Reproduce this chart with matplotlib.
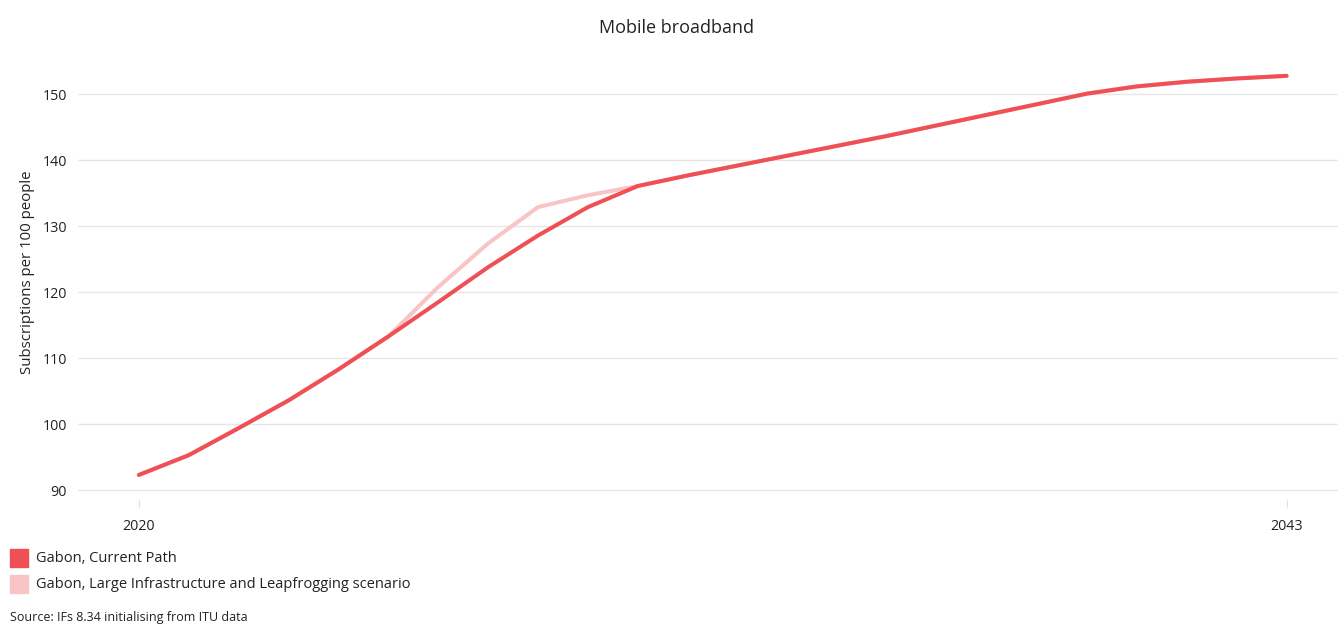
import matplotlib.pyplot as plt
import matplotlib.patches as mpatches

plt.rcParams['font.family'] = ['Open Sans', 'DejaVu Sans']

years = list(range(2020, 2044))
current_path = [92.3, 95.3, 99.4, 103.6, 108.3, 113.3, 118.5, 123.8, 128.6, 132.9,
                136.1, 137.7, 139.2, 140.7, 142.2, 143.7, 145.3, 146.9, 148.5, 150.1,
                151.2, 151.9, 152.4, 152.8]
# scenario only differs 2025-2030, otherwise it sits under the current path
leapfrog = [92.3, 95.3, 99.4, 103.6, 108.3, 113.3, 120.8, 127.4, 132.9, 134.7,
            136.1, 137.7, 139.2, 140.7, 142.2, 143.7, 145.3, 146.9, 148.5, 150.1,
            151.2, 151.9, 152.4, 152.8]
y_ticks = [90, 100, 110, 120, 130, 140, 150]
x_ticks = [2020, 2043]

red = '#ef5056'
pink = '#f8c4c5'

fig = plt.figure(figsize=(13.38, 6.24), dpi=100)
ax = fig.add_axes([78 / 1338, 1 - 500 / 624, 1260 / 1338, 440 / 624])

ax.plot(years, leapfrog, color=pink, linewidth=2.9, solid_capstyle='round', zorder=2)
ax.plot(years, current_path, color=red, linewidth=2.9, solid_capstyle='round', zorder=3)

ax.set_xlim(2018.78, 2044.03)
ax.set_ylim(88.5, 155.2)
ax.set_yticks(y_ticks)
ax.set_xticks(x_ticks)
ax.grid(axis='y', color='#e6e6e6', linewidth=1)
ax.set_axisbelow(True)
for s in ax.spines.values():
    s.set_visible(False)
ax.tick_params(axis='y', length=0, pad=8, labelsize=10.3, labelcolor='#222222')
ax.tick_params(axis='x', length=5, width=0.8, color='#dddddd', pad=9, labelsize=10.3,
               labelcolor='#222222')

fig.text(28 / 1338, 1 - 272 / 624, 'Subscriptions per 100 people', rotation=90,
         ha='center', va='center', fontsize=10.8, color='#222222')
fig.text(676 / 1338, 1 - 28 / 624, 'Mobile broadband', ha='center', va='center',
         fontsize=13, color='#222222')

# legend drawn manually at bottom left
fig.patches.append(mpatches.Rectangle((10 / 1338, 1 - 567 / 624), 18 / 1338, 18 / 624,
                                      color=red, transform=fig.transFigure, figure=fig))
fig.patches.append(mpatches.Rectangle((10 / 1338, 1 - 593 / 624), 18 / 1338, 18 / 624,
                                      color=pink, transform=fig.transFigure, figure=fig))
fig.text(36 / 1338, 1 - 558 / 624, 'Gabon, Current Path', ha='left', va='center',
         fontsize=10.5, color='#222222')
fig.text(36 / 1338, 1 - 584 / 624, 'Gabon, Large Infrastructure and Leapfrogging scenario',
         ha='left', va='center', fontsize=10.5, color='#222222')
fig.text(10 / 1338, 1 - 618 / 624, 'Source: IFs 8.34 initialising from ITU data',
         ha='left', va='center', fontsize=9, color='#222222')

fig.savefig('out.png', dpi=100)
